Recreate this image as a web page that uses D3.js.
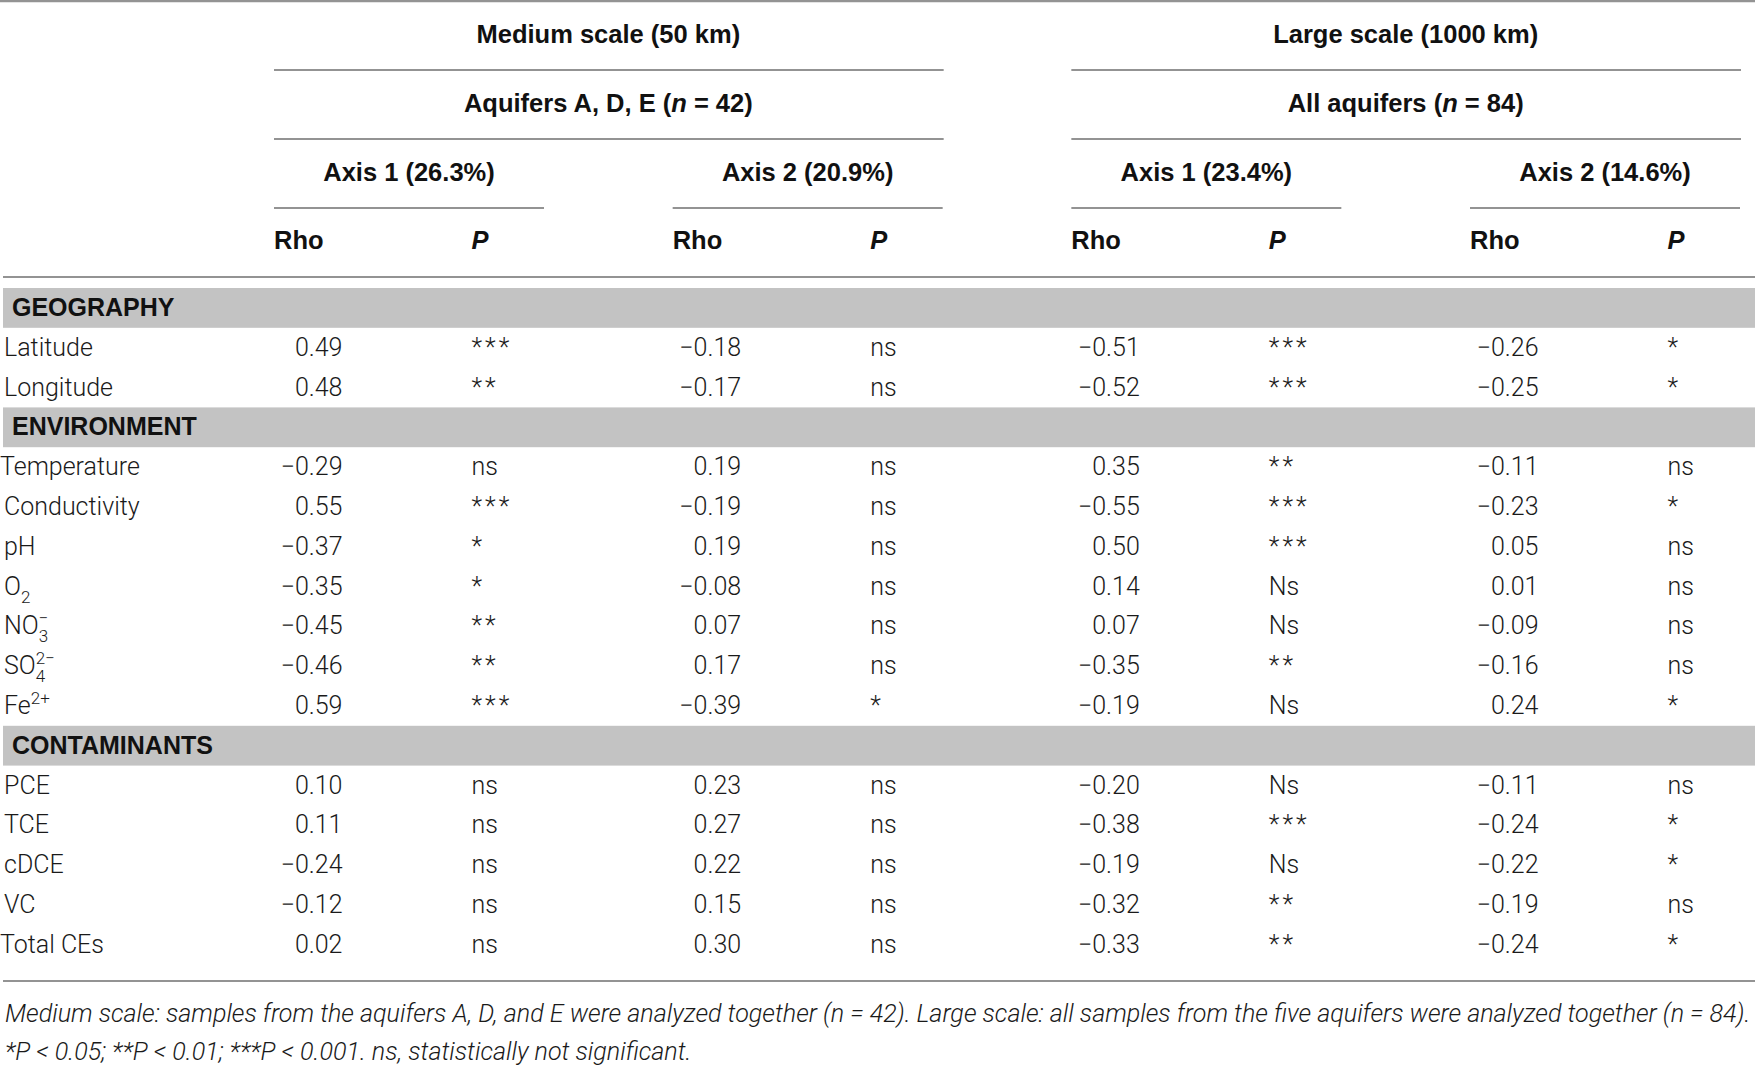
<!DOCTYPE html>
<html><head><meta charset="utf-8">
<script src="https://cdn.jsdelivr.net/npm/d3@7"></script>
<style>
html,body{margin:0;padding:0;background:#fff;}
svg{display:block;}
.hd{font-family:"Liberation Sans",Arial,sans-serif;font-weight:bold;font-size:25.5px;fill:#111;}
.bd{font-family:Roboto,"Liberation Sans",sans-serif;font-weight:300;font-size:25px;fill:#1a1a1a;}
.sec{font-family:"Liberation Sans",Arial,sans-serif;font-weight:bold;font-size:25px;fill:#111;}
.fn{font-family:Roboto,"Liberation Sans",sans-serif;font-weight:300;font-style:italic;fill:#1a1a1a;}
</style></head>
<body>
<script>
// ---------- data ----------
const sections = ["GEOGRAPHY", "ENVIRONMENT", "CONTAMINANTS"];
const variables = ["Latitude", "Longitude", "Temperature", "Conductivity", "pH", "O_{2}", "NO_{3}^{−}", "SO_{4}^{2−}", "Fe^{2+}", "PCE", "TCE", "cDCE", "VC", "Total CEs"];
const variableSection = [0, 0, 1, 1, 1, 1, 1, 1, 1, 2, 2, 2, 2, 2];
const rhoMedAxis1 = [0.49, 0.48, -0.29, 0.55, -0.37, -0.35, -0.45, -0.46, 0.59, 0.10, 0.11, -0.24, -0.12, 0.02];
const pMedAxis1 = ["***", "**", "ns", "***", "*", "*", "**", "**", "***", "ns", "ns", "ns", "ns", "ns"];
const rhoMedAxis2 = [-0.18, -0.17, 0.19, -0.19, 0.19, -0.08, 0.07, 0.17, -0.39, 0.23, 0.27, 0.22, 0.15, 0.30];
const pMedAxis2 = ["ns", "ns", "ns", "ns", "ns", "ns", "ns", "ns", "*", "ns", "ns", "ns", "ns", "ns"];
const rhoLargeAxis1 = [-0.51, -0.52, 0.35, -0.55, 0.50, 0.14, 0.07, -0.35, -0.19, -0.20, -0.38, -0.19, -0.32, -0.33];
const pLargeAxis1 = ["***", "***", "**", "***", "***", "Ns", "Ns", "**", "Ns", "Ns", "***", "Ns", "**", "**"];
const rhoLargeAxis2 = [-0.26, -0.25, -0.11, -0.23, 0.05, 0.01, -0.09, -0.16, 0.24, -0.11, -0.24, -0.22, -0.19, -0.24];
const pLargeAxis2 = ["*", "*", "ns", "*", "ns", "ns", "ns", "ns", "*", "ns", "*", "*", "ns", "*"];

const scaleHeaders = [
  {label: ["Medium scale (50 km)"], cols: [0, 1]},
  {label: ["Large scale (1000 km)"], cols: [2, 3]}
];
const groupHeaders = [
  {label: ["Aquifers A, D, E (", "n", " = 42)"], cols: [0, 1]},
  {label: ["All aquifers (", "n", " = 84)"], cols: [2, 3]}
];
const axisHeaders = ["Axis 1 (26.3%)", "Axis 2 (20.9%)", "Axis 1 (23.4%)", "Axis 2 (14.6%)"];
const footnotes = [
  "Medium scale: samples from the aquifers A, D, and E were analyzed together (n = 42). Large scale: all samples from the five aquifers were analyzed together (n = 84).",
  "*P < 0.05; **P < 0.01; ***P < 0.001. ns, statistically not significant."
];

const rhoCols = [rhoMedAxis1, rhoMedAxis2, rhoLargeAxis1, rhoLargeAxis2];
const pCols = [pMedAxis1, pMedAxis2, pLargeAxis1, pLargeAxis2];

// ---------- layout ----------
const W = 1755, H = 1066;
const svg = d3.select("body").append("svg").attr("width", W).attr("height", H);

const rows = [];
sections.forEach((s, si) => {
  rows.push({type: "section", label: s});
  variables.forEach((v, vi) => { if (variableSection[vi] === si) rows.push({type: "var", label: v, i: vi}); });
});

const colX = d3.scaleLinear().domain([0, 3]).range([274, 1470]);
const colW = 270;
const y = d3.scaleBand().domain(d3.range(rows.length)).range([288, 288 + rows.length * 39.8]);
const headY = d3.scaleLinear().domain([0, 4]).range([1, 277]);
const fmt = d3.format(".2f");
const lineColor = "#939393";

function hline(x1, x2, yy, w) {
  svg.append("line").attr("x1", x1).attr("x2", x2).attr("y1", yy).attr("y2", yy)
    .attr("stroke", lineColor).attr("stroke-width", w || 2);
}

hline(0, W, headY(0), 2.5);
scaleHeaders.forEach(h => hline(colX(h.cols[0]), colX(h.cols[1]) + colW + 1, headY(1)));
groupHeaders.forEach(h => hline(colX(h.cols[0]), colX(h.cols[1]) + colW + 1, headY(2)));
axisHeaders.forEach((h, i) => hline(colX(i), colX(i) + colW, headY(3)));
hline(3, W, headY(4));

function richText(sel, parts) {
  parts.forEach((p, k) => sel.append("tspan").text(p).attr("font-style", k % 2 === 1 ? "italic" : null));
}
[scaleHeaders, groupHeaders].forEach((hs, lvl) => {
  hs.forEach(h => {
    const cx = (colX(h.cols[0]) + colX(h.cols[1]) + colW) / 2;
    const t = svg.append("text").attr("class", "hd").attr("x", cx).attr("y", headY(lvl + 1) - 27).attr("text-anchor", "middle");
    richText(t, h.label);
  });
});
axisHeaders.forEach((h, i) => {
  svg.append("text").attr("class", "hd").attr("x", colX(i) + colW / 2).attr("y", headY(3) - 27)
    .attr("text-anchor", "middle").text(h);
  svg.append("text").attr("class", "hd").attr("x", colX(i)).attr("y", headY(4) - 28).text("Rho");
  svg.append("text").attr("class", "hd").attr("x", colX(i) + 197.5).attr("y", headY(4) - 28).attr("font-style", "italic").text("P");
});

// section bands
const secRows = rows.map((r, k) => ({r, k})).filter(d => d.r.type === "section");
svg.selectAll("rect.band").data(secRows).join("rect").attr("class", "band")
  .attr("x", 3).attr("width", W - 3).attr("y", d => y(d.k)).attr("height", y.bandwidth())
  .attr("fill", "#c3c3c3");
svg.selectAll("text.sec").data(secRows).join("text").attr("class", "sec")
  .attr("x", 12).attr("y", d => y(d.k) + 28).text(d => d.r.label);

// variable labels with sub/superscripts
const labelNudge = {"Temperature": -4, "Total CEs": -4};
function drawLabel(g, label) {
  const re = /([^_^]+)|_\{([^}]*)\}|\^\{([^}]*)\}/g;
  let m, lastSub = null, pending = 0;
  while ((m = re.exec(label)) !== null) {
    if (m[1]) {
      g.append("tspan").attr("dy", pending || null).text(m[1]);
      pending = 0; lastSub = null;
    } else if (m[2]) {
      g.append("tspan").attr("font-size", "17px").attr("dy", 8 + pending).text(m[2]);
      pending = -8; lastSub = m[2];
    } else if (m[3]) {
      const dx = lastSub ? -lastSub.length * 9.5 : 0;
      g.append("tspan").attr("font-size", "17px").attr("dx", dx || null).attr("dy", -10 + pending).text(m[3]);
      pending = 10; lastSub = null;
    }
  }
}
const varRows = rows.map((r, k) => ({r, k})).filter(d => d.r.type === "var");
varRows.forEach(d => {
  const t = svg.append("text").attr("class", "bd").attr("x", 4 + (labelNudge[d.r.label] || 0)).attr("y", y(d.k) + 28);
  drawLabel(t, d.r.label);
});

// values
rhoCols.forEach((col, ci) => {
  svg.selectAll("text.rho" + ci).data(varRows).join("text").attr("class", "bd rho" + ci)
    .attr("x", colX(ci) + 68.5).attr("y", d => y(d.k) + 28).attr("text-anchor", "end")
    .text(d => fmt(col[d.r.i]));
  svg.selectAll("text.p" + ci).data(varRows).join("text").attr("class", "bd p" + ci)
    .attr("x", colX(ci) + 197.5).attr("y", d => y(d.k) + 28)
    .attr("letter-spacing", d => pCols[ci][d.r.i].startsWith("*") ? "3px" : null)
    .text(d => pCols[ci][d.r.i]);
});

hline(3, W, 981);

// footnotes
const fnBase = [1022, 1060];
const fnEls = footnotes.map((txt, li) =>
  svg.append("text").attr("class", "fn").attr("x", 5).attr("y", fnBase[li]).attr("font-size", "22px").text(txt));
const target = 1746;
const len = fnEls[0].node().getComputedTextLength();
const fs = 22 * target / len;
fnEls.forEach(t => t.attr("font-size", fs + "px"));
</script>
</body></html>
